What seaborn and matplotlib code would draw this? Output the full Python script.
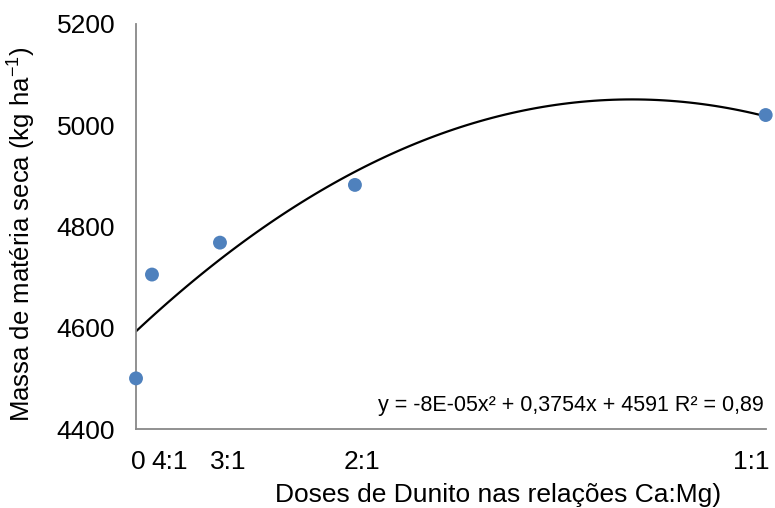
import numpy as np
import matplotlib
matplotlib.use("Agg")
import matplotlib.pyplot as plt
import pandas as pd
import seaborn as sns

# doses de dunito (x) e massa seca observada
doses = [0, 76, 400, 1043, 3000]
dose_labels = ['0', '4:1', '3:1', '2:1', '1:1']
massa = [4500, 4705, 4768, 4882, 5020]
# deslocamento dos rótulos em relação à dose (como no original)
label_shift = [10, 86, 38, 33, -67]

df = pd.DataFrame({'dose': doses, 'massa': massa})

sns.set_style("white")
plt.rcParams['font.family'] = ['Liberation Sans', 'DejaVu Sans']
plt.rcParams['mathtext.default'] = 'regular'
plt.rcParams['text.color'] = 'black'
plt.rcParams['axes.labelcolor'] = 'black'

fig = plt.figure(figsize=(7.75, 5.08), dpi=100)
ax = fig.add_axes([0.1755, 0.1555, 0.8125, 0.7975])

# trendline polinomial de 2a ordem
sns.regplot(data=df, x='dose', y='massa', order=2, ci=None, scatter=False,
            line_kws={'color': 'black', 'lw': 1.6}, ax=ax)
sns.scatterplot(data=df, x='dose', y='massa', color='#4F81BD', s=100,
                edgecolor='none', zorder=5, clip_on=False, ax=ax)

ax.set_xlim(0, max(doses))
ax.set_ylim(4400, 5200)
ax.set_yticks([4400, 4600, 4800, 5000, 5200])

# marcas só no início e no fim do eixo x; rótulos como ticks menores
ax.set_xticks([0, max(doses)])
ax.set_xticklabels(['', ''])
ax.set_xticks([d + s for d, s in zip(doses, label_shift)], minor=True)
ax.set_xticklabels(dose_labels, minor=True)

for s in ['top', 'right']:
    ax.spines[s].set_visible(False)
for s in ['left', 'bottom']:
    ax.spines[s].set_color('#888888')
    ax.spines[s].set_linewidth(1.3)
ax.tick_params(axis='both', which='major', direction='out', length=6,
               width=1.3, color='#888888', labelcolor='black', labelsize=19, pad=9)
ax.tick_params(axis='x', which='minor', length=0, labelcolor='black',
               labelsize=19, pad=15)

ax.set_xlabel('Doses de Dunito nas relações Ca:Mg)', fontsize=19)
ax.xaxis.set_label_coords(0.575, -0.134)
ax.set_ylabel('Massa de matéria seca (kg ha$^{-1}$)', fontsize=18.5)
ax.yaxis.set_label_coords(-0.155, 0.48)

ax.text(0.997, 0.057, 'y = -8E-05x² + 0,3754x + 4591 R² = 0,89',
        transform=ax.transAxes, ha='right', va='center', fontsize=15.5)

plt.savefig('out.png', dpi=100)
